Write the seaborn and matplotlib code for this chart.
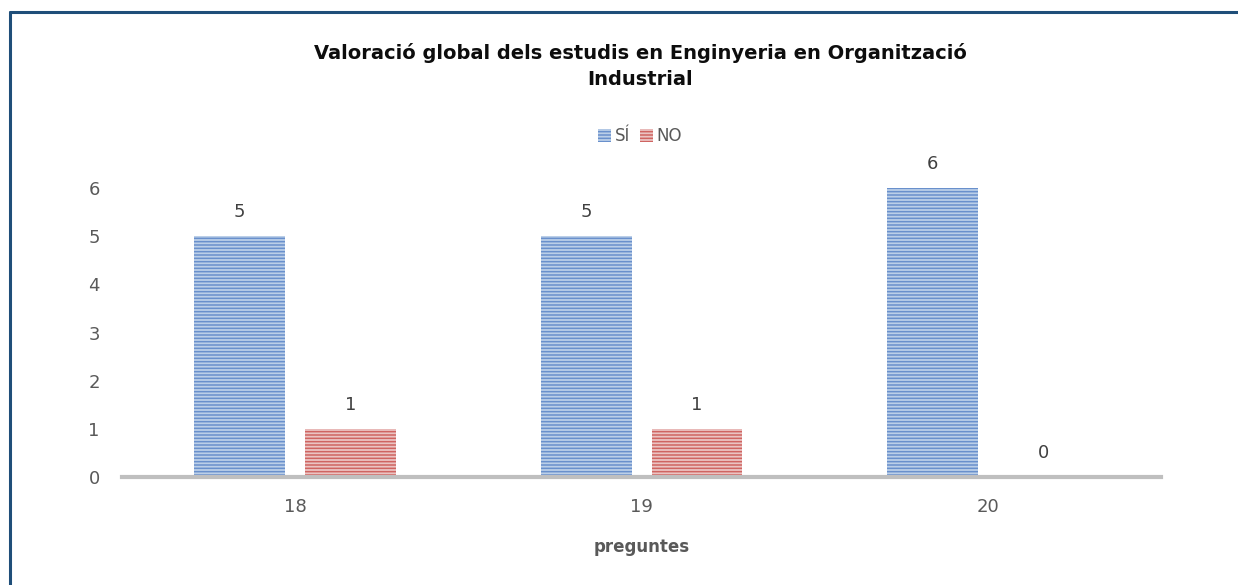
import matplotlib
matplotlib.use("Agg")
import matplotlib.pyplot as plt
from matplotlib.lines import Line2D
import pandas as pd
import seaborn as sns

preguntes = ["18", "19", "20"]
respostes = ["SÍ", "NO"]
si_vals = [5, 5, 6]
no_vals = [1, 1, 0]

TITLE = "Valoració global dels estudis en Enginyeria en Organització\nIndustrial"

df = pd.DataFrame({
    "pregunta": preguntes * 2,
    "resposta": [respostes[0]] * 3 + [respostes[1]] * 3,
    "valor": si_vals + no_vals,
})

sns.set_theme(style="white")
plt.rcParams["font.family"] = ["DejaVu Sans"]
plt.rcParams["hatch.linewidth"] = 1.1

face = {"SÍ": "#B3CEF0", "NO": "#F2BDBB"}
stripe = {"SÍ": "#6990CC", "NO": "#CF6461"}

fig = plt.figure(figsize=(12.38, 5.85), dpi=100)
ax = fig.add_axes([0.0985, 0.1846, 0.8395, 0.494])

sns.barplot(data=df, x="pregunta", y="valor", hue="resposta",
            palette=face, width=0.64, gap=0.18, ax=ax, legend=False)

for cont, r in zip(ax.containers, respostes):
    for p in cont.patches:
        p.set_hatch("-----")
        p.set_edgecolor(stripe[r])
        p.set_linewidth(0)
    labs = ax.bar_label(cont, padding=11, fontsize=13, color="#404040")
    for t in labs:
        t.set_clip_on(False)

ax.set_ylim(0, 6)
ax.set_yticks(range(0, 7))
sns.despine(ax=ax, left=True, top=True, right=True)
ax.spines["bottom"].set_color("#BFBFBF")
ax.spines["bottom"].set_linewidth(3)
ax.tick_params(axis="both", length=0, labelsize=13, labelcolor="#595959")
ax.tick_params(axis="y", pad=16)
ax.tick_params(axis="x", pad=15)
ax.set_ylabel("")
ax.set_xlabel("preguntes", fontsize=12, fontweight="bold", color="#595959", labelpad=16)

handles = [c.patches[0] for c in ax.containers]
leg = fig.legend(handles, respostes, loc="center", bbox_to_anchor=(0.517, 0.767),
                 ncol=2, frameon=False, fontsize=12, handlelength=0.8,
                 handleheight=0.8, handletextpad=0.2, columnspacing=0.6)
for t in leg.get_texts():
    t.set_color("#595959")

fig.text(0.517, 0.887, TITLE, ha="center", va="center", fontsize=14,
         fontweight="bold", color="#0D0D0D", linespacing=1.45)

# frame lines of the chart area
fig.add_artist(Line2D([10 / 1238, 1.0], [1 - 12 / 585, 1 - 12 / 585],
                      transform=fig.transFigure, color="#1F4E79", linewidth=2.2))
fig.add_artist(Line2D([10 / 1238, 10 / 1238], [0.0, 1 - 12 / 585],
                      transform=fig.transFigure, color="#1F4E79", linewidth=2.2))

fig.savefig("out.png", dpi=100, facecolor="white")
